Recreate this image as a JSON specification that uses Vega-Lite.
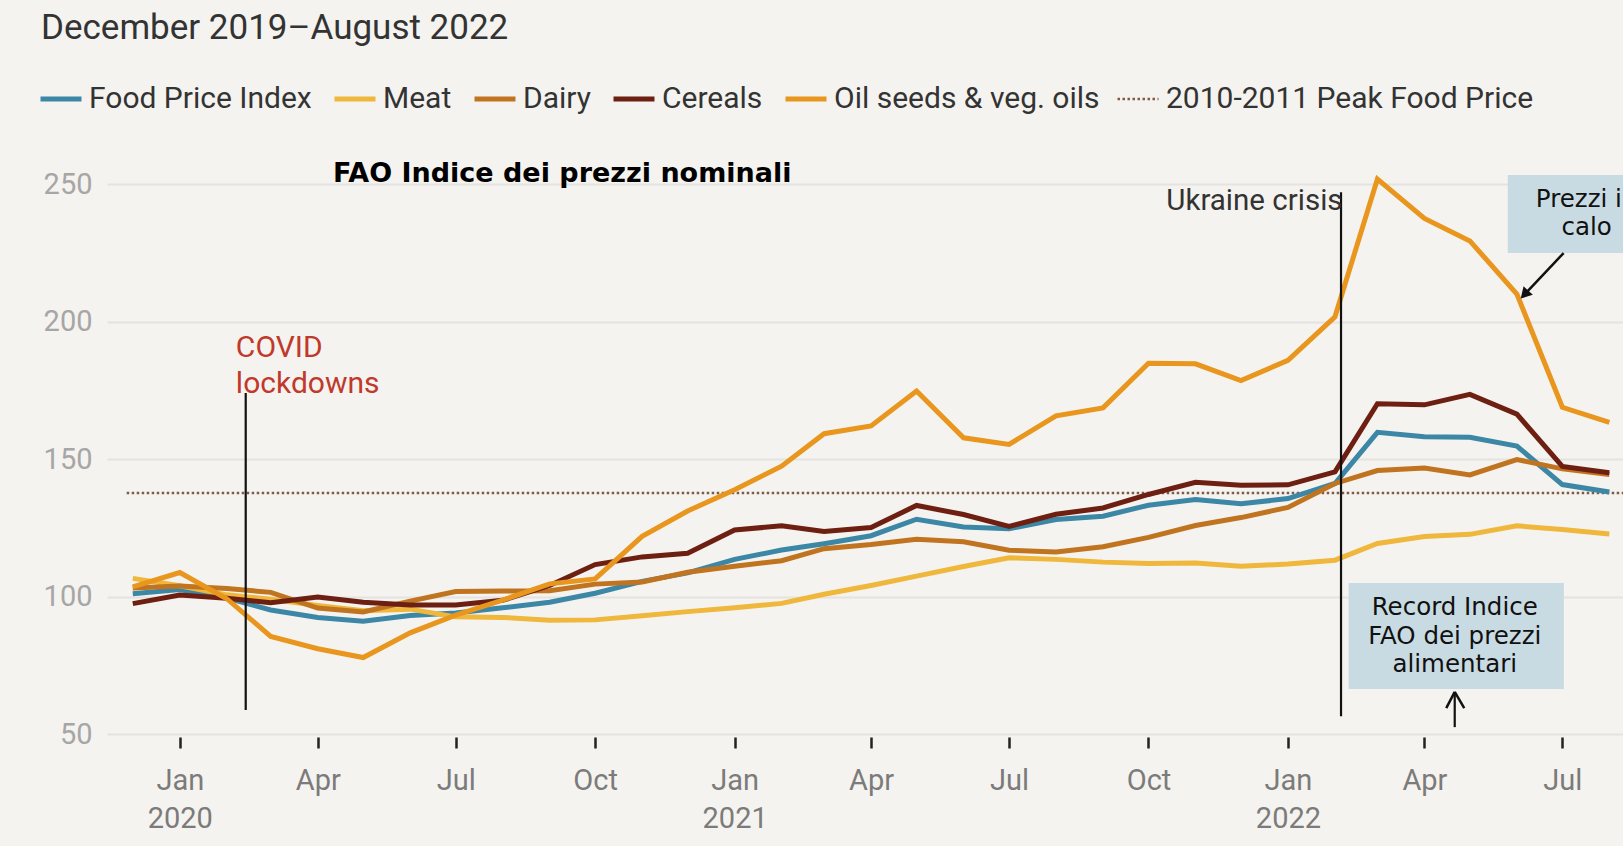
{
  "$schema": "https://vega.github.io/schema/vega-lite/v6.json",
  "width": 1516,
  "height": 550,
  "autosize": {"type": "none"},
  "padding": {"left": 107, "top": 184, "right": 0, "bottom": 112},
  "background": "#f5f3ef",
  "title": {
    "text": "December 2019–August 2022",
    "anchor": "start",
    "frame": "group",
    "dx": -66,
    "offset": 38,
    "font": "Roboto",
    "fontSize": 35,
    "fontWeight": "normal",
    "color": "#333333"
  },
  "config": {
    "view": {"stroke": null},
    "font": "Roboto"
  },
  "datasets": {
    "series": [
      {"date": "2019-12-01", "series": "Food Price Index", "value": 101.0},
      {"date": "2020-01-01", "series": "Food Price Index", "value": 102.5},
      {"date": "2020-02-01", "series": "Food Price Index", "value": 99.4},
      {"date": "2020-03-01", "series": "Food Price Index", "value": 95.1},
      {"date": "2020-04-01", "series": "Food Price Index", "value": 92.4},
      {"date": "2020-05-01", "series": "Food Price Index", "value": 91.0},
      {"date": "2020-06-01", "series": "Food Price Index", "value": 93.1},
      {"date": "2020-07-01", "series": "Food Price Index", "value": 94.0},
      {"date": "2020-08-01", "series": "Food Price Index", "value": 95.9},
      {"date": "2020-09-01", "series": "Food Price Index", "value": 97.9},
      {"date": "2020-10-01", "series": "Food Price Index", "value": 101.2},
      {"date": "2020-11-01", "series": "Food Price Index", "value": 105.5},
      {"date": "2020-12-01", "series": "Food Price Index", "value": 108.6},
      {"date": "2021-01-01", "series": "Food Price Index", "value": 113.5},
      {"date": "2021-02-01", "series": "Food Price Index", "value": 116.9},
      {"date": "2021-03-01", "series": "Food Price Index", "value": 119.2},
      {"date": "2021-04-01", "series": "Food Price Index", "value": 122.1},
      {"date": "2021-05-01", "series": "Food Price Index", "value": 128.1},
      {"date": "2021-06-01", "series": "Food Price Index", "value": 125.3},
      {"date": "2021-07-01", "series": "Food Price Index", "value": 124.6},
      {"date": "2021-08-01", "series": "Food Price Index", "value": 128.0},
      {"date": "2021-09-01", "series": "Food Price Index", "value": 129.2},
      {"date": "2021-10-01", "series": "Food Price Index", "value": 133.2},
      {"date": "2021-11-01", "series": "Food Price Index", "value": 135.3},
      {"date": "2021-12-01", "series": "Food Price Index", "value": 133.7},
      {"date": "2022-01-01", "series": "Food Price Index", "value": 135.6},
      {"date": "2022-02-01", "series": "Food Price Index", "value": 141.1},
      {"date": "2022-03-01", "series": "Food Price Index", "value": 159.7},
      {"date": "2022-04-01", "series": "Food Price Index", "value": 158.1},
      {"date": "2022-05-01", "series": "Food Price Index", "value": 157.9},
      {"date": "2022-06-01", "series": "Food Price Index", "value": 154.7},
      {"date": "2022-07-01", "series": "Food Price Index", "value": 140.7},
      {"date": "2022-08-01", "series": "Food Price Index", "value": 138.0},

      {"date": "2019-12-01", "series": "Meat", "value": 106.6},
      {"date": "2020-01-01", "series": "Meat", "value": 103.9},
      {"date": "2020-02-01", "series": "Meat", "value": 100.6},
      {"date": "2020-03-01", "series": "Meat", "value": 99.0},
      {"date": "2020-04-01", "series": "Meat", "value": 96.7},
      {"date": "2020-05-01", "series": "Meat", "value": 94.8},
      {"date": "2020-06-01", "series": "Meat", "value": 95.4},
      {"date": "2020-07-01", "series": "Meat", "value": 92.6},
      {"date": "2020-08-01", "series": "Meat", "value": 92.4},
      {"date": "2020-09-01", "series": "Meat", "value": 91.4},
      {"date": "2020-10-01", "series": "Meat", "value": 91.5},
      {"date": "2020-11-01", "series": "Meat", "value": 93.0},
      {"date": "2020-12-01", "series": "Meat", "value": 94.5},
      {"date": "2021-01-01", "series": "Meat", "value": 95.9},
      {"date": "2021-02-01", "series": "Meat", "value": 97.5},
      {"date": "2021-03-01", "series": "Meat", "value": 100.8},
      {"date": "2021-04-01", "series": "Meat", "value": 104.0},
      {"date": "2021-05-01", "series": "Meat", "value": 107.4},
      {"date": "2021-06-01", "series": "Meat", "value": 110.9},
      {"date": "2021-07-01", "series": "Meat", "value": 114.1},
      {"date": "2021-08-01", "series": "Meat", "value": 113.5},
      {"date": "2021-09-01", "series": "Meat", "value": 112.5},
      {"date": "2021-10-01", "series": "Meat", "value": 112.0},
      {"date": "2021-11-01", "series": "Meat", "value": 112.2},
      {"date": "2021-12-01", "series": "Meat", "value": 111.0},
      {"date": "2022-01-01", "series": "Meat", "value": 111.8},
      {"date": "2022-02-01", "series": "Meat", "value": 113.2},
      {"date": "2022-03-01", "series": "Meat", "value": 119.3},
      {"date": "2022-04-01", "series": "Meat", "value": 121.8},
      {"date": "2022-05-01", "series": "Meat", "value": 122.6},
      {"date": "2022-06-01", "series": "Meat", "value": 125.7},
      {"date": "2022-07-01", "series": "Meat", "value": 124.4},
      {"date": "2022-08-01", "series": "Meat", "value": 122.7},

      {"date": "2019-12-01", "series": "Dairy", "value": 103.1},
      {"date": "2020-01-01", "series": "Dairy", "value": 103.8},
      {"date": "2020-02-01", "series": "Dairy", "value": 102.9},
      {"date": "2020-03-01", "series": "Dairy", "value": 101.5},
      {"date": "2020-04-01", "series": "Dairy", "value": 95.8},
      {"date": "2020-05-01", "series": "Dairy", "value": 94.4},
      {"date": "2020-06-01", "series": "Dairy", "value": 98.3},
      {"date": "2020-07-01", "series": "Dairy", "value": 101.8},
      {"date": "2020-08-01", "series": "Dairy", "value": 102.0},
      {"date": "2020-09-01", "series": "Dairy", "value": 102.1},
      {"date": "2020-10-01", "series": "Dairy", "value": 104.5},
      {"date": "2020-11-01", "series": "Dairy", "value": 105.3},
      {"date": "2020-12-01", "series": "Dairy", "value": 108.8},
      {"date": "2021-01-01", "series": "Dairy", "value": 111.0},
      {"date": "2021-02-01", "series": "Dairy", "value": 113.0},
      {"date": "2021-03-01", "series": "Dairy", "value": 117.4},
      {"date": "2021-04-01", "series": "Dairy", "value": 118.9},
      {"date": "2021-05-01", "series": "Dairy", "value": 120.8},
      {"date": "2021-06-01", "series": "Dairy", "value": 119.9},
      {"date": "2021-07-01", "series": "Dairy", "value": 116.8},
      {"date": "2021-08-01", "series": "Dairy", "value": 116.2},
      {"date": "2021-09-01", "series": "Dairy", "value": 118.1},
      {"date": "2021-10-01", "series": "Dairy", "value": 121.5},
      {"date": "2021-11-01", "series": "Dairy", "value": 125.8},
      {"date": "2021-12-01", "series": "Dairy", "value": 128.7},
      {"date": "2022-01-01", "series": "Dairy", "value": 132.4},
      {"date": "2022-02-01", "series": "Dairy", "value": 141.1},
      {"date": "2022-03-01", "series": "Dairy", "value": 145.8},
      {"date": "2022-04-01", "series": "Dairy", "value": 146.7},
      {"date": "2022-05-01", "series": "Dairy", "value": 144.2},
      {"date": "2022-06-01", "series": "Dairy", "value": 149.8},
      {"date": "2022-07-01", "series": "Dairy", "value": 146.4},
      {"date": "2022-08-01", "series": "Dairy", "value": 144.4},

      {"date": "2019-12-01", "series": "Cereals", "value": 97.4},
      {"date": "2020-01-01", "series": "Cereals", "value": 100.5},
      {"date": "2020-02-01", "series": "Cereals", "value": 99.4},
      {"date": "2020-03-01", "series": "Cereals", "value": 97.7},
      {"date": "2020-04-01", "series": "Cereals", "value": 99.8},
      {"date": "2020-05-01", "series": "Cereals", "value": 97.9},
      {"date": "2020-06-01", "series": "Cereals", "value": 96.9},
      {"date": "2020-07-01", "series": "Cereals", "value": 96.9},
      {"date": "2020-08-01", "series": "Cereals", "value": 98.6},
      {"date": "2020-09-01", "series": "Cereals", "value": 104.0},
      {"date": "2020-10-01", "series": "Cereals", "value": 111.6},
      {"date": "2020-11-01", "series": "Cereals", "value": 114.4},
      {"date": "2020-12-01", "series": "Cereals", "value": 115.7},
      {"date": "2021-01-01", "series": "Cereals", "value": 124.2},
      {"date": "2021-02-01", "series": "Cereals", "value": 125.7},
      {"date": "2021-03-01", "series": "Cereals", "value": 123.6},
      {"date": "2021-04-01", "series": "Cereals", "value": 125.1},
      {"date": "2021-05-01", "series": "Cereals", "value": 133.1},
      {"date": "2021-06-01", "series": "Cereals", "value": 129.8},
      {"date": "2021-07-01", "series": "Cereals", "value": 125.5},
      {"date": "2021-08-01", "series": "Cereals", "value": 129.9},
      {"date": "2021-09-01", "series": "Cereals", "value": 132.2},
      {"date": "2021-10-01", "series": "Cereals", "value": 137.1},
      {"date": "2021-11-01", "series": "Cereals", "value": 141.5},
      {"date": "2021-12-01", "series": "Cereals", "value": 140.5},
      {"date": "2022-01-01", "series": "Cereals", "value": 140.6},
      {"date": "2022-02-01", "series": "Cereals", "value": 145.3},
      {"date": "2022-03-01", "series": "Cereals", "value": 170.1},
      {"date": "2022-04-01", "series": "Cereals", "value": 169.7},
      {"date": "2022-05-01", "series": "Cereals", "value": 173.5},
      {"date": "2022-06-01", "series": "Cereals", "value": 166.3},
      {"date": "2022-07-01", "series": "Cereals", "value": 147.3},
      {"date": "2022-08-01", "series": "Cereals", "value": 145.0},

      {"date": "2019-12-01", "series": "Oil seeds & veg. oils", "value": 103.5},
      {"date": "2020-01-01", "series": "Oil seeds & veg. oils", "value": 108.7},
      {"date": "2020-02-01", "series": "Oil seeds & veg. oils", "value": 99.2},
      {"date": "2020-03-01", "series": "Oil seeds & veg. oils", "value": 85.5},
      {"date": "2020-04-01", "series": "Oil seeds & veg. oils", "value": 81.0},
      {"date": "2020-05-01", "series": "Oil seeds & veg. oils", "value": 77.8},
      {"date": "2020-06-01", "series": "Oil seeds & veg. oils", "value": 86.8},
      {"date": "2020-07-01", "series": "Oil seeds & veg. oils", "value": 93.2},
      {"date": "2020-08-01", "series": "Oil seeds & veg. oils", "value": 98.7},
      {"date": "2020-09-01", "series": "Oil seeds & veg. oils", "value": 104.6},
      {"date": "2020-10-01", "series": "Oil seeds & veg. oils", "value": 106.4},
      {"date": "2020-11-01", "series": "Oil seeds & veg. oils", "value": 121.9},
      {"date": "2020-12-01", "series": "Oil seeds & veg. oils", "value": 131.1},
      {"date": "2021-01-01", "series": "Oil seeds & veg. oils", "value": 138.8},
      {"date": "2021-02-01", "series": "Oil seeds & veg. oils", "value": 147.4},
      {"date": "2021-03-01", "series": "Oil seeds & veg. oils", "value": 159.2},
      {"date": "2021-04-01", "series": "Oil seeds & veg. oils", "value": 162.0},
      {"date": "2021-05-01", "series": "Oil seeds & veg. oils", "value": 174.7},
      {"date": "2021-06-01", "series": "Oil seeds & veg. oils", "value": 157.7},
      {"date": "2021-07-01", "series": "Oil seeds & veg. oils", "value": 155.3},
      {"date": "2021-08-01", "series": "Oil seeds & veg. oils", "value": 165.7},
      {"date": "2021-09-01", "series": "Oil seeds & veg. oils", "value": 168.6},
      {"date": "2021-10-01", "series": "Oil seeds & veg. oils", "value": 184.8},
      {"date": "2021-11-01", "series": "Oil seeds & veg. oils", "value": 184.6},
      {"date": "2021-12-01", "series": "Oil seeds & veg. oils", "value": 178.5},
      {"date": "2022-01-01", "series": "Oil seeds & veg. oils", "value": 185.9},
      {"date": "2022-02-01", "series": "Oil seeds & veg. oils", "value": 201.7},
      {"date": "2022-03-01", "series": "Oil seeds & veg. oils", "value": 251.8},
      {"date": "2022-04-01", "series": "Oil seeds & veg. oils", "value": 237.5},
      {"date": "2022-05-01", "series": "Oil seeds & veg. oils", "value": 229.3},
      {"date": "2022-06-01", "series": "Oil seeds & veg. oils", "value": 210.0},
      {"date": "2022-07-01", "series": "Oil seeds & veg. oils", "value": 168.8},
      {"date": "2022-08-01", "series": "Oil seeds & veg. oils", "value": 163.3}
    ],
    "peak": [
      {"date": "2019-11-27", "date2": "2022-08-10", "value": 137.6, "series": "2010-2011 Peak Food Price"}
    ],
    "vlines": [
      {"date": "2020-02-13T12:00:00Z", "top": 174.0, "bottom": 58.7},
      {"date": "2022-02-05T00:00:00Z", "top": 247.0, "bottom": 56.5},
      {"date": "2022-04-21T00:00:00Z", "top": 65.3, "bottom": 52.5}
    ],
    "segments": [
      {"x1": "2022-07-01T20:00:00Z", "y1": 224.9, "x2": "2022-06-07T12:00:00Z", "y2": 210.7},
      {"x1": "2022-04-15T10:00:00Z", "y1": 59.4, "x2": "2022-04-21T00:00:00Z", "y2": 65.3},
      {"x1": "2022-04-27T07:00:00Z", "y1": 59.4, "x2": "2022-04-21T00:00:00Z", "y2": 65.3}
    ],
    "boxes": [
      {"x1": "2022-05-26", "x2": "2022-09-30", "y1": 253.3, "y2": 224.9},
      {"x1": "2022-02-10", "x2": "2022-07-02", "y1": 104.9, "y2": 66.4}
    ],
    "boxtext": [
      {"date": "2022-07-17", "value": 244.2, "label": ["Prezzi in", "calo"]},
      {"date": "2022-04-21", "value": 95.8, "label": ["Record Indice", "FAO dei prezzi", "alimentari"]}
    ]
  },
  "layer": [
    {
      "data": {"name": "boxes"},
      "mark": {"type": "rect", "fill": "#c9dbe2", "clip": false},
      "encoding": {
        "x": {"field": "x1", "type": "temporal"},
        "x2": {"field": "x2"},
        "y": {"field": "y1", "type": "quantitative"},
        "y2": {"field": "y2"}
      }
    },
    {
      "data": {"name": "peak"},
      "mark": {"type": "rule", "strokeWidth": 2.5, "strokeDash": [2.5, 2.5]},
      "encoding": {
        "x": {"field": "date", "type": "temporal"},
        "x2": {"field": "date2"},
        "y": {"field": "value", "type": "quantitative"},
        "color": {"field": "series", "type": "nominal"}
      }
    },
    {
      "data": {"name": "series"},
      "mark": {"type": "line", "strokeWidth": 5, "clip": false},
      "encoding": {
        "x": {
          "field": "date",
          "type": "temporal",
          "scale": {
            "type": "utc",
            "domain": [
              {"year": 2019, "month": 11, "date": 14, "utc": true},
              {"year": 2022, "month": 8, "date": 10, "utc": true}
            ]
          },
          "axis": {
            "title": null,
            "values": [
              {"year": 2020, "month": 1, "date": 1, "utc": true},
              {"year": 2020, "month": 4, "date": 1, "utc": true},
              {"year": 2020, "month": 7, "date": 1, "utc": true},
              {"year": 2020, "month": 10, "date": 1, "utc": true},
              {"year": 2021, "month": 1, "date": 1, "utc": true},
              {"year": 2021, "month": 4, "date": 1, "utc": true},
              {"year": 2021, "month": 7, "date": 1, "utc": true},
              {"year": 2021, "month": 10, "date": 1, "utc": true},
              {"year": 2022, "month": 1, "date": 1, "utc": true},
              {"year": 2022, "month": 4, "date": 1, "utc": true},
              {"year": 2022, "month": 7, "date": 1, "utc": true}
            ],
            "labelExpr": "utcmonth(datum.value) === 0 ? [utcFormat(datum.value, '%b'), utcFormat(datum.value, '%Y')] : utcFormat(datum.value, '%b')",
            "grid": false,
            "domain": false,
            "offset": 3,
            "tickColor": "#222222",
            "tickWidth": 2.5,
            "tickSize": 11,
            "labelFont": "Roboto",
            "labelFontSize": 29,
            "labelColor": "#7b7b7b",
            "labelPadding": 18,
            "labelLineHeight": 38,
            "labelFlush": false,
            "labelOverlap": false
          }
        },
        "y": {
          "field": "value",
          "type": "quantitative",
          "scale": {"domain": [50, 250], "nice": false, "zero": false},
          "axis": {
            "title": null,
            "values": [50, 100, 150, 200, 250],
            "domain": false,
            "ticks": false,
            "grid": true,
            "gridColor": "#e4e3df",
            "gridWidth": 2,
            "labelFont": "Roboto",
            "labelFontSize": 29,
            "labelColor": "#a6a6a6",
            "labelPadding": 15
          }
        },
        "color": {
          "field": "series",
          "type": "nominal",
          "scale": {
            "domain": ["Food Price Index", "Meat", "Dairy", "Cereals", "Oil seeds & veg. oils", "2010-2011 Peak Food Price"],
            "range": ["#3b87a5", "#efb73c", "#c07420", "#6d1f12", "#e8961e", "#7d5b48"]
          },
          "legend": {
            "title": null,
            "orient": "none",
            "legendX": -61,
            "legendY": -100,
            "direction": "horizontal",
            "columns": 6,
            "symbolType": "stroke",
            "symbolSize": 1681,
            "symbolStrokeWidth": 5,
            "labelFont": "Roboto",
            "labelFontSize": 30,
            "labelColor": "#333333",
            "labelOffset": 13,
            "columnPadding": 12,
            "labelLimit": 0,
            "encode": {
              "symbols": {
                "update": {
                  "strokeDash": {"signal": "datum.label === '2010-2011 Peak Food Price' ? [2.5, 2.5] : [1, 0]"},
                  "strokeWidth": {"signal": "datum.label === '2010-2011 Peak Food Price' ? 2.5 : 5"}
                }
              }
            }
          }
        }
      }
    },
    {
      "data": {"name": "vlines"},
      "mark": {"type": "rule", "color": "#111111", "strokeWidth": 2.2},
      "encoding": {
        "x": {"field": "date", "type": "temporal"},
        "y": {"field": "top", "type": "quantitative"},
        "y2": {"field": "bottom"}
      }
    },
    {
      "data": {"name": "segments"},
      "mark": {"type": "rule", "color": "#111111", "strokeWidth": 2.5},
      "encoding": {
        "x": {"field": "x1", "type": "temporal"},
        "x2": {"field": "x2"},
        "y": {"field": "y1", "type": "quantitative"},
        "y2": {"field": "y2"}
      }
    },
    {
      "data": {"values": [{"date": "2022-06-06T00:00:00Z", "value": 209.8}]},
      "mark": {"type": "point", "shape": "triangle-up", "filled": true, "color": "#111111", "size": 160, "angle": 223, "opacity": 1},
      "encoding": {
        "x": {"field": "date", "type": "temporal"},
        "y": {"field": "value", "type": "quantitative"}
      }
    },
    {
      "data": {"values": [{"date": "2020-04-11", "value": 253.7, "label": "FAO Indice dei prezzi nominali"}]},
      "mark": {"type": "text", "font": "DejaVu Sans", "fontWeight": "bold", "fontSize": 27, "color": "#000000", "align": "left", "baseline": "middle"},
      "encoding": {
        "x": {"field": "date", "type": "temporal"},
        "y": {"field": "value", "type": "quantitative"},
        "text": {"field": "label"}
      }
    },
    {
      "data": {"values": [{"date": "2020-02-07", "value": 187.1, "label": ["COVID", "lockdowns"]}]},
      "mark": {"type": "text", "font": "Roboto", "fontSize": 30, "color": "#c0392b", "align": "left", "baseline": "alphabetic", "lineHeight": 36},
      "encoding": {
        "x": {"field": "date", "type": "temporal"},
        "y": {"field": "value", "type": "quantitative"},
        "text": {"field": "label"}
      }
    },
    {
      "data": {"values": [{"date": "2022-02-06", "value": 240.5, "label": "Ukraine crisis"}]},
      "mark": {"type": "text", "font": "Roboto", "fontSize": 29.5, "color": "#333333", "align": "right", "baseline": "alphabetic"},
      "encoding": {
        "x": {"field": "date", "type": "temporal"},
        "y": {"field": "value", "type": "quantitative"},
        "text": {"field": "label"}
      }
    },
    {
      "data": {"name": "boxtext"},
      "mark": {"type": "text", "font": "DejaVu Sans", "fontSize": 24.5, "color": "#111111", "align": "center", "baseline": "middle", "lineHeight": 28.5},
      "encoding": {
        "x": {"field": "date", "type": "temporal"},
        "y": {"field": "value", "type": "quantitative"},
        "text": {"field": "label"}
      }
    }
  ]
}
